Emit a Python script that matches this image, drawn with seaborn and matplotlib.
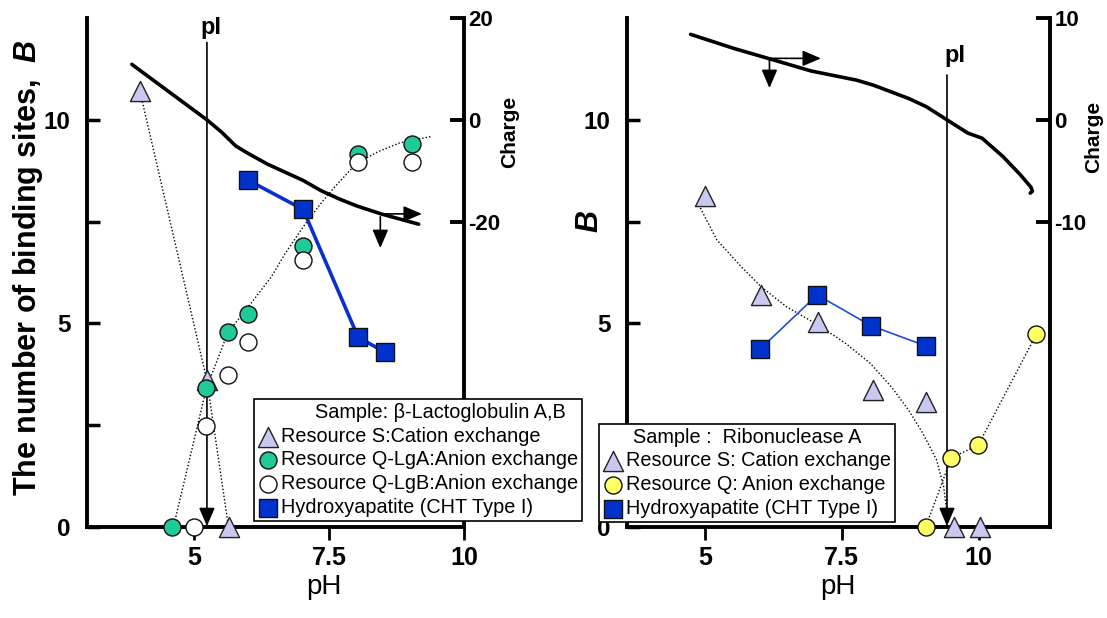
import numpy as np
import pandas as pd
import seaborn as sns
import matplotlib.pyplot as plt

# ---- beta-Lactoglobulin A,B (left panel) ----
lg_ph_s = [4.0, 5.24, 5.64]
lg_b_s = [10.7, 3.6, 0.0]
lg_ph_qa = [4.6, 5.23, 5.63, 6.0, 7.02, 8.04, 9.03]
lg_b_qa = [0.0, 3.41, 4.78, 5.23, 6.91, 9.17, 9.41]
lg_ph_qb = [5.0, 5.23, 5.63, 6.0, 7.02, 8.04, 9.03]
lg_b_qb = [0.0, 2.49, 3.74, 4.54, 6.55, 8.96, 8.96]
lg_ph_cht = [6.0, 7.02, 8.04, 8.54]
lg_b_cht = [8.52, 7.80, 4.66, 4.29]
# dotted trend through the anion exchange points
lg_fit_ph = [4.62, 5.23, 5.63, 6.03, 6.43, 6.69, 7.02, 7.35, 7.61, 8.01, 8.41, 8.80, 9.39]
lg_fit_b = [0.0, 3.41, 4.78, 5.45, 6.14, 6.72, 7.37, 7.95, 8.36, 8.93, 9.22, 9.43, 9.59]
# net charge curve (right axis)
lg_charge_ph = [3.85, 5.24, 5.51, 5.77, 5.97, 6.36, 7.02, 7.35, 7.68, 8.01, 8.47, 9.16]
lg_charge = [10.9, 0.0, -2.4, -5.1, -6.4, -8.7, -11.9, -13.9, -15.5, -16.9, -18.5, -20.5]
lg_pi = 5.24

# ---- Ribonuclease A (right panel) ----
rn_ph_s = [5.01, 6.03, 7.07, 8.07, 9.03, 9.54, 10.03]
rn_b_s = [8.12, 5.70, 5.04, 3.37, 3.08, 0.0, 0.0]
rn_ph_q = [9.03, 9.50, 9.99, 11.05]
rn_b_q = [0.0, 1.70, 2.01, 4.73]
rn_ph_cht = [6.01, 7.05, 8.04, 9.03]
rn_b_cht = [4.37, 5.70, 4.94, 4.45]
rn_fit_ph = [4.89, 5.22, 5.66, 6.03, 6.49, 7.07, 7.57, 8.02, 8.40, 8.72, 8.98, 9.23, 9.36, 9.42]
rn_fit_b = [7.91, 7.05, 6.40, 5.90, 5.41, 4.96, 4.51, 4.02, 3.45, 2.87, 2.30, 1.65, 0.99, 0.34]
rn_charge_ph = [4.74, 5.54, 6.18, 6.94, 7.77, 8.08, 8.72, 9.04, 9.42, 9.80, 10.06, 10.44, 10.76, 10.95, 10.98, 10.94]
rn_charge = [8.4, 7.0, 6.0, 4.8, 3.9, 3.4, 2.1, 1.3, 0.0, -1.3, -1.8, -3.6, -5.4, -6.6, -7.0, -7.2]
rn_pi = 9.42

sns.set_style("white")
plt.rcParams['font.family'] = ['Liberation Sans', 'DejaVu Sans']
plt.rcParams['mathtext.fontset'] = 'custom'
plt.rcParams['mathtext.it'] = 'Liberation Sans:italic:bold'
plt.rcParams['text.color'] = 'k'
plt.rcParams['axes.labelcolor'] = 'k'

fig = plt.figure(figsize=(11.07, 6.18), dpi=100)
ax1 = fig.add_axes([0.0786, 0.1472, 0.3406, 0.8236])
ax3 = fig.add_axes([0.5664, 0.1472, 0.3821, 0.8236])
ax1c = ax1.twinx()
ax3c = ax3.twinx()

dots = dict(color='k', lw=1, linestyle=(0, (1, 1.5)), sort=False, estimator=None, legend=False)
tri = dict(marker='^', s=210, color='#c8c8f0', edgecolor='#222222', linewidth=1, zorder=6, legend=False)
sq = dict(marker='s', s=150, color='#0033cc', edgecolor='#111111', linewidth=1, zorder=6, legend=False)
circ = dict(marker='o', s=150, edgecolor='#111111', linewidth=1, zorder=6, legend=False)
arrow = dict(arrowstyle='-|>,head_length=0.7,head_width=0.3', color='k', lw=1.2,
             mutation_scale=16, shrinkA=0, shrinkB=0)
leg_kw = dict(loc='lower left', bbox_transform=fig.transFigure, fancybox=False, edgecolor='k',
              framealpha=1, fontsize=14.3, title_fontsize=14.3, handletextpad=0.15,
              labelspacing=0.24, borderpad=0.2, borderaxespad=0, handlelength=1.0)


def style(ax, axc, xlim, cticks):
    ax.set_xlim(*xlim)
    ax.set_ylim(0, 12.5)
    ax.set_xticks([5, 7.5, 10], ['5', '7.5', '10'], fontweight='bold', fontsize=18)
    ax.set_yticks([0, 2.5, 5, 7.5, 10], ['0', '', '5', '', '10'], fontweight='bold', fontsize=17.5)
    ax.tick_params(axis='x', bottom=True, direction='out', length=9, width=2, pad=5, colors='k')
    ax.tick_params(axis='y', left=True, direction='in', length=9, width=2.5, pad=12, colors='k')
    for s in ['top', 'right']:
        ax.spines[s].set_visible(False)
    for s in ['left', 'bottom']:
        ax.spines[s].set_linewidth(2.8)
        ax.spines[s].set_color('k')
    axc.set_ylim(cticks[0] * 4, cticks[-1])
    axc.set_yticks(cticks, [str(t) for t in cticks], fontweight='bold', fontsize=16)
    axc.tick_params(axis='y', right=True, direction='in', length=10, width=2.8, pad=3, colors='k')
    for s in ['top', 'left', 'bottom']:
        axc.spines[s].set_visible(False)
    axc.spines['right'].set_linewidth(2.8)
    axc.spines['right'].set_color('k')


# ---- left panel ----
sns.lineplot(x=lg_ph_s, y=lg_b_s, ax=ax1, **dots)
sns.lineplot(x=lg_fit_ph, y=lg_fit_b, ax=ax1, **dots)
sns.lineplot(x=lg_ph_cht, y=lg_b_cht, ax=ax1, color='#0a2fd0', lw=2.6, sort=False,
             estimator=None, legend=False)
ax1.annotate('', xy=(lg_pi, 0.02), xytext=(lg_pi, 11.9), arrowprops=arrow, zorder=4)
ax1.text(5.31, 12.28, 'pI', ha='center', va='center', fontsize=17, fontweight='bold')
ax1.annotate('', xy=(9.22, 7.69), xytext=(8.47, 7.69), arrowprops=arrow)
ax1.annotate('', xy=(8.45, 6.85), xytext=(8.45, 7.62), arrowprops=arrow)
sns.scatterplot(x=lg_ph_s, y=lg_b_s, ax=ax1, label='Resource S:Cation exchange', **tri)
sns.scatterplot(x=lg_ph_qa, y=lg_b_qa, ax=ax1, color='#20c99a',
                label='Resource Q-LgA:Anion exchange', **circ)
sns.scatterplot(x=lg_ph_qb, y=lg_b_qb, ax=ax1, color='white',
                label='Resource Q-LgB:Anion exchange', **circ)
sns.scatterplot(x=lg_ph_cht, y=lg_b_cht, ax=ax1, label='Hydroxyapatite (CHT Type I)', **sq)
sns.lineplot(x=lg_charge_ph, y=lg_charge, ax=ax1c, color='k', lw=2.6, sort=False,
             estimator=None, legend=False)

style(ax1, ax1c, (3.02, 10.0), [-20, 0, 20])
ax1.set_xlabel('pH', fontsize=20)
ax1.xaxis.set_label_coords(0.629, -0.093)
ax1.set_ylabel('The number of binding sites,  $B$', fontsize=22, fontweight='bold')
ax1.yaxis.set_label_coords(-0.111, 0.51)
ax1c.set_ylabel('Charge', fontsize=15, fontweight='bold')
ax1c.yaxis.set_label_coords(1.095, 0.776)

h, l = ax1.get_legend_handles_labels()
leg = ax1c.legend(h, l, title='        Sample: β-Lactoglobulin A,B',
                  bbox_to_anchor=(254 / 1107, 97 / 618), **leg_kw)
leg.get_frame().set_linewidth(1.2)

# ---- right panel ----
sns.lineplot(x=rn_fit_ph, y=rn_fit_b, ax=ax3, **dots)
sns.lineplot(x=rn_ph_q, y=rn_b_q, ax=ax3, **dots)
sns.lineplot(x=rn_ph_cht, y=rn_b_cht, ax=ax3, color='#1a4fd6', lw=1.2, sort=False,
             estimator=None, legend=False)
ax3.annotate('', xy=(rn_pi, 0.02), xytext=(rn_pi, 11.1), arrowprops=arrow, zorder=4)
ax3.text(9.56, 11.59, 'pI', ha='center', va='center', fontsize=17, fontweight='bold')
ax3.annotate('', xy=(7.12, 11.51), xytext=(6.18, 11.51), arrowprops=arrow)
ax3.annotate('', xy=(6.18, 10.78), xytext=(6.18, 11.51), arrowprops=arrow)
sns.scatterplot(x=rn_ph_s, y=rn_b_s, ax=ax3, label='Resource S: Cation exchange', **tri)
sns.scatterplot(x=rn_ph_q, y=rn_b_q, ax=ax3, color='#ffff66',
                label='Resource Q: Anion exchange', **circ)
sns.scatterplot(x=rn_ph_cht, y=rn_b_cht, ax=ax3, label='Hydroxyapatite (CHT Type I)', **sq)
sns.lineplot(x=rn_charge_ph, y=rn_charge, ax=ax3c, color='k', lw=2.6, sort=False,
             estimator=None, legend=False)

style(ax3, ax3c, (3.58, 11.3), [-10, 0, 10])
ax3.set_xlabel('pH', fontsize=20)
ax3.xaxis.set_label_coords(0.499, -0.093)
ax3.set_ylabel('$B$', fontsize=22)
ax3.yaxis.set_label_coords(-0.052, 0.60)
ax3c.set_ylabel('Charge', fontsize=15, fontweight='bold')
ax3c.yaxis.set_label_coords(1.080, 0.766)

h, l = ax3.get_legend_handles_labels()
leg = ax3c.legend(h, l, title='Sample :  Ribonuclease A',
                  bbox_to_anchor=(599 / 1107, 96 / 618), **leg_kw)
leg.get_frame().set_linewidth(1.2)

for ax in [ax1, ax3]:
    for coll in ax.collections:
        coll.set_clip_on(False)

fig.savefig('out.png', dpi=100)
